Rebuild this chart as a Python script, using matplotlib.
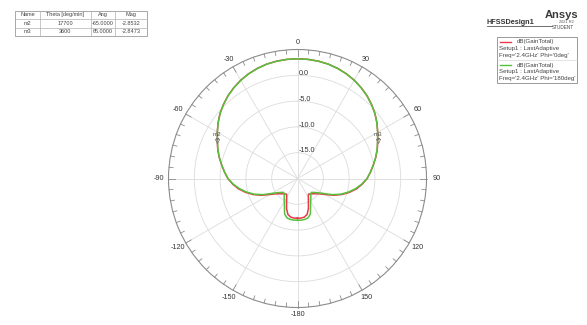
import numpy as np
import matplotlib
matplotlib.use("Agg")
import matplotlib.pyplot as plt
from matplotlib.lines import Line2D
from matplotlib.patches import Rectangle

plt.rcParams['font.family'] = ['Liberation Sans', 'DejaVu Sans']

# Far-field gain cuts, theta in degrees, gain in dB
theta_deg = list(range(-180, 185, 5))

gain_phi0 = [
    -12.3, -12.3, -12.4, -12.8, -13.8, -15.0, -15.8, -16.3, -16.1, -15.8,
    -15.4, -14.8, -13.8, -12.3, -10.9, -9.6, -8.4, -7.4, -6.50, -5.80,
    -5.08, -4.30, -3.55, -2.85, -2.05, -1.20, -0.40, 0.30, 0.95, 1.50,
    2.00, 2.40, 2.72, 2.96, 3.10, 3.18, 3.20, 3.18, 3.10, 2.96,
    2.72, 2.40, 2.00, 1.50, 0.95, 0.30, -0.40, -1.20, -2.05, -2.85,
    -3.55, -4.30, -5.08, -5.80, -6.50, -7.4, -8.4, -9.6, -10.9, -12.3,
    -13.8, -14.8, -15.4, -15.8, -16.1, -16.3, -15.8, -15.0, -13.8, -12.8,
    -12.4, -12.3, -12.3,
]

gain_phi180 = [
    -11.9, -11.9, -11.95, -12.1, -12.7, -14.0, -14.9, -15.5, -16.0, -16.2,
    -15.8, -15.2, -14.2, -12.6, -11.1, -9.8, -8.6, -7.5, -6.52, -5.83,
    -5.10, -4.33, -3.58, -2.87, -2.07, -1.22, -0.42, 0.28, 0.93, 1.48,
    1.98, 2.38, 2.70, 2.95, 3.09, 3.17, 3.20, 3.17, 3.09, 2.95,
    2.70, 2.38, 1.98, 1.48, 0.93, 0.28, -0.42, -1.22, -2.07, -2.87,
    -3.58, -4.33, -5.10, -5.83, -6.52, -7.5, -8.6, -9.8, -11.1, -12.6,
    -14.2, -15.2, -15.8, -16.2, -16.0, -15.5, -14.9, -14.0, -12.7, -12.1,
    -11.95, -11.9, -11.9,
]

marker_names = ["m2", "m3"]
marker_theta = ["17700", "3600"]
marker_ang = [-65.0, 65.0]
marker_mag = [-2.8532, -2.8473]

angle_ticks = [0, 30, 60, 90, 120, 150, 180, 210, 240, 270, 300, 330]
angle_labels = ["0", "30", "60", "90", "120", "150", "-180", "-150", "-120", "-90", "-60", "-30"]
ring_values = [-15.0, -10.0, -5.0, 0.0]
r_min, r_max = -20.0, 5.0

W, H = 587, 325
fig = plt.figure(figsize=(W / 100, H / 100), dpi=100)
fig.patch.set_facecolor("white")


def fx(x):
    return x / W


def fy(y):
    return 1 - y / H


# polar plot area
cx, cy, rad = 297.5, 178.5, 129.0
ax = fig.add_axes([fx(cx - rad), fy(cy + rad), 2 * rad / W, 2 * rad / H], projection="polar")
ax.set_theta_zero_location("N")
ax.set_theta_direction(-1)
ax.set_ylim(r_min, r_max)
ax.set_facecolor("white")

ax.set_thetagrids(angle_ticks, [""] * len(angle_ticks))
ax.tick_params(axis="x", length=0)
ax.set_rgrids(ring_values, labels=[""] * len(ring_values))
ax.grid(True, color="#dcdcdc", linewidth=0.6)
ax.spines["polar"].set_color("#8c8c8c")
ax.spines["polar"].set_linewidth(0.8)

# angle labels just outside the rim
for a, lab in zip(angle_ticks, angle_labels):
    t = np.deg2rad(a)
    d_px = 6.5 + 3.5 * abs(np.sin(t))
    ax.annotate(lab, xy=(t, r_max), xytext=(d_px * 0.72 * np.sin(t), d_px * 0.72 * np.cos(t)),
                textcoords="offset points", ha="center", va="center",
                fontsize=5.2, color="#333333", annotation_clip=False)

# small ticks on the outer ring every 5 degrees
tick_len = 0.8
for a in range(0, 360, 5):
    t = np.deg2rad(a)
    ln = tick_len * (1.5 if a % 30 == 0 else 1.0)
    ax.plot([t, t], [r_max, r_max - ln], color="#8c8c8c", lw=0.6, clip_on=False, zorder=3)

for v in ring_values:
    ax.annotate(f"{v:.1f}", xy=(0, v), xytext=(1.0, 1.3), textcoords="offset points",
                ha="left", va="center", fontsize=5.2, color="#333333", zorder=4)

th = np.deg2rad(theta_deg)
ax.plot(th, gain_phi0, color="#e8384a", lw=1.1, zorder=5)
ax.plot(th, gain_phi180, color="#55c23c", lw=1.1, zorder=6)

# markers on the Phi=0 trace
for name, ang, mag in zip(marker_names, marker_ang, marker_mag):
    t = np.deg2rad(ang)
    ax.plot([t], [mag], marker="v", markersize=3.2, markerfacecolor="none",
            markeredgecolor="#777777", markeredgewidth=0.5, zorder=7)
    ax.annotate(name, xy=(t, mag), xytext=(0, 4.5), textcoords="offset points",
                ha="center", va="center", fontsize=4.5, color="#555555", zorder=7)

# marker table
tx0, tx1 = 15.0, 146.7
ty = [10.7, 19.0, 27.5, 35.8]
col_edges = [tx0, 40.0, 90.7, 115.0, tx1]
fig.patches.append(Rectangle((fx(tx0), fy(ty[-1])), (tx1 - tx0) / W, (ty[-1] - ty[0]) / H,
                             transform=fig.transFigure, fill=False, ec="#9a9a9a", lw=0.6))
for y in ty[1:-1]:
    fig.add_artist(Line2D([fx(tx0), fx(tx1)], [fy(y), fy(y)], color="#b0b0b0", lw=0.5))
for x in col_edges[1:-1]:
    fig.add_artist(Line2D([fx(x), fx(x)], [fy(ty[0]), fy(ty[-1])], color="#b0b0b0", lw=0.5))
rows = [["Name", "Theta [deg/min]", "Ang", "Mag"]]
for n, t, a, m in zip(marker_names, marker_theta, marker_ang, marker_mag):
    rows.append([n, t, f"{a:.4f}", f"{m:.4f}"])
for ri, row in enumerate(rows):
    yc = (ty[ri] + ty[ri + 1]) / 2
    for ci, txt in enumerate(row):
        xc = (col_edges[ci] + col_edges[ci + 1]) / 2
        fig.text(fx(xc), fy(yc), txt, ha="center", va="center", fontsize=4.0, color="#444444")

# title block
fig.text(fx(578), fy(15), "Ansys", ha="right", va="center", fontsize=8, fontweight="bold", color="#3a3a3a")
fig.text(fx(566), fy(22), "2021 R2", ha="center", va="center", fontsize=2.8, color="#555555")
fig.text(fx(563), fy(27.5), "STUDENT", ha="center", va="center", fontsize=3.3, color="#444444")
fig.text(fx(486.5), fy(22.5), "HFSSDesign1", ha="left", va="center", fontsize=5.2,
         fontweight="bold", color="#333333")
fig.add_artist(Line2D([fx(486.5), fx(552)], [fy(26.3), fy(26.3)], color="#555555", lw=0.6))

# legend box
lx0, lx1, ly0, ly1 = 497.0, 577.0, 36.7, 83.3
fig.patches.append(Rectangle((fx(lx0), fy(ly1)), (lx1 - lx0) / W, (ly1 - ly0) / H,
                             transform=fig.transFigure, fill=True, fc="white", ec="#8a8a8a", lw=0.6))
fig.add_artist(Line2D([fx(lx0), fx(lx1)], [fy(60.2), fy(60.2)], color="#d0d0d0", lw=0.4))
legend_entries = [
    ("#e8384a", 41.7, "Freq='2.4GHz' Phi='0deg'"),
    ("#55c23c", 65.2, "Freq='2.4GHz' Phi='180deg'"),
]
for color, y0, freq in legend_entries:
    fig.add_artist(Line2D([fx(500), fx(511)], [fy(y0), fy(y0)], color=color, lw=1.0))
    fig.text(fx(517), fy(y0), "dB(GainTotal)", ha="left", va="center", fontsize=4.4, color="#444444")
    fig.text(fx(499), fy(y0 + 6.8), "Setup1 : LastAdaptive", ha="left", va="center",
             fontsize=4.4, color="#444444")
    fig.text(fx(499), fy(y0 + 13.6), freq, ha="left", va="center", fontsize=4.4, color="#444444")

fig.savefig("out.png", dpi=100, facecolor="white")
